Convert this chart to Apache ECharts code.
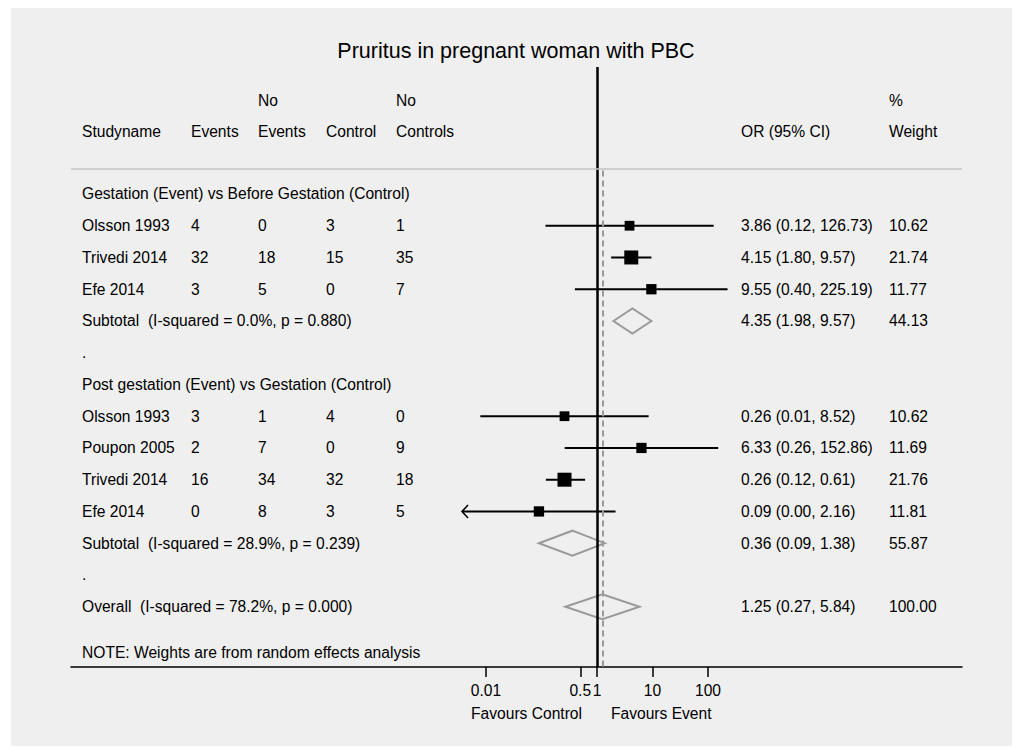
<!DOCTYPE html>
<html><head><meta charset="utf-8">
<script src="https://cdn.jsdelivr.net/npm/echarts@6/dist/echarts.min.js"></script>
<style>
html,body{margin:0;padding:0;background:#fff;}
#wrap{position:relative;width:1014px;height:749px;overflow:hidden;}
#bg{position:absolute;left:11px;top:8px;width:1001px;height:738px;background:#efefef;}
#chart{position:absolute;left:0;top:0;width:1014px;height:749px;}
</style></head><body>
<div id="wrap"><div id="bg"></div><div id="chart"></div></div>
<script>
// ---------------- data ----------------
const titleText = 'Pruritus in pregnant woman with PBC';
const headerTop = ['', '', 'No', '', 'No', '', '%'];
const headerBottom = ['Studyname', 'Events', 'Events', 'Control', 'Controls', 'OR (95% CI)', 'Weight'];

const group1Title = 'Gestation (Event) vs Before Gestation (Control)';
const group1Studies = ['Olsson 1993', 'Trivedi 2014', 'Efe 2014'];
const group1Events = [4, 32, 3];
const group1NoEvents = [0, 18, 5];
const group1Control = [3, 15, 0];
const group1NoControls = [1, 35, 7];
const group1OR = [3.86, 4.15, 9.55];
const group1Low = [0.118, 1.80, 0.40];
const group1High = [126.73, 9.57, 225.19];
const group1Weight = [10.62, 21.74, 11.77];
const group1SubLabel = 'Subtotal  (I-squared = 0.0%, p = 0.880)';
const group1Sub = [4.35, 1.98, 9.57, 44.13]; // OR, low, high, weight

const group2Title = 'Post gestation (Event) vs Gestation (Control)';
const group2Studies = ['Olsson 1993', 'Poupon 2005', 'Trivedi 2014', 'Efe 2014'];
const group2Events = [3, 2, 16, 0];
const group2NoEvents = [1, 7, 34, 8];
const group2Control = [4, 0, 32, 3];
const group2NoControls = [0, 9, 18, 5];
const group2OR = [0.26, 6.33, 0.26, 0.09];
const group2Low = [0.0079, 0.262, 0.12, 0.0037];
const group2High = [8.52, 152.86, 0.61, 2.16];
const group2Weight = [10.62, 11.69, 21.76, 11.81];
const group2SubLabel = 'Subtotal  (I-squared = 28.9%, p = 0.239)';
const group2Sub = [0.36, 0.09, 1.38, 55.87];

const overallLabel = 'Overall  (I-squared = 78.2%, p = 0.000)';
const overall = [1.25, 0.27, 5.84, 100.00];
const noteText = 'NOTE: Weights are from random effects analysis';

const tickValues = [0.01, 0.5, 1, 10, 100];
const favoursLeft = 'Favours Control';
const favoursRight = 'Favours Event';
const arrowFloor = 0.005; // CIs reaching below this get an arrow

// ---------------- layout / style ----------------
const FONT = '"Liberation Sans", Arial, Helvetica, sans-serif';
const FS = 15.6;
const colX = [82, 191, 258, 326, 396, 741, 889];
const sepRow = -0.79;
const yMin = -4, yMax = 14.9;
const f2 = v => v.toFixed(2);
const ciText = (o, l, h) => f2(o) + ' (' + f2(l) + ', ' + f2(h) + ')';

// build rows
const tableRows = [];
const studyPts = [];
const diamondPts = [];
tableRows.push({row: -2.96, cells: headerTop});
tableRows.push({row: -1.96, cells: headerBottom});
let r = 0;
function addGroup(title, names, ev, nev, ct, nct, or, lo, hi, w, subLabel, sub) {
  tableRows.push({row: r, cells: [title]}); r++;
  for (let i = 0; i < names.length; i++) {
    tableRows.push({row: r, cells: [names[i], String(ev[i]), String(nev[i]), String(ct[i]), String(nct[i]), ciText(or[i], lo[i], hi[i]), f2(w[i])]});
    studyPts.push([Math.log10(or[i]), r, Math.log10(lo[i]), Math.log10(hi[i]), w[i], lo[i] < arrowFloor ? 1 : 0]);
    r++;
  }
  tableRows.push({row: r, cells: [subLabel, '', '', '', '', ciText(sub[0], sub[1], sub[2]), f2(sub[3])]});
  diamondPts.push([Math.log10(sub[0]), r, Math.log10(sub[1]), Math.log10(sub[2])]);
  r++;
  tableRows.push({row: r, cells: ['.']}); r++;
}
addGroup(group1Title, group1Studies, group1Events, group1NoEvents, group1Control, group1NoControls,
  group1OR, group1Low, group1High, group1Weight, group1SubLabel, group1Sub);
addGroup(group2Title, group2Studies, group2Events, group2NoEvents, group2Control, group2NoControls,
  group2OR, group2Low, group2High, group2Weight, group2SubLabel, group2Sub);
tableRows.push({row: r, cells: [overallLabel, '', '', '', '', ciText(overall[0], overall[1], overall[2]), f2(overall[3])]});
diamondPts.push([Math.log10(overall[0]), r, Math.log10(overall[1]), Math.log10(overall[2])]);
r++;
tableRows.push({row: r + 0.45, cells: [noteText]});

const chart = echarts.init(document.getElementById('chart'), null, {renderer: 'svg'});
const logTicks = tickValues.map(v => Math.log10(v));

const option = {
  backgroundColor: 'transparent',
  animation: false,
  textStyle: {fontFamily: FONT},
  grid: {left: 71, right: 52, top: 67, bottom: 82, containLabel: false},
  xAxis: {
    type: 'value', min: -9.477, max: 6.577,
    splitLine: {show: false},
    axisLine: {show: true, onZero: false, lineStyle: {color: '#000', width: 1.6}},
    axisTick: {show: true, customValues: logTicks, length: 10, lineStyle: {color: '#000', width: 1.5}},
    axisLabel: {show: true, customValues: logTicks, color: '#000', fontSize: FS, fontFamily: FONT, margin: 15,
      formatter: v => String(+Math.pow(10, v).toPrecision(2))}
  },
  yAxis: {type: 'value', inverse: true, min: yMin, max: yMax, show: false},
  graphic: [
    {type: 'text', x: 516, y: 51, style: {text: titleText, font: '21.5px ' + FONT, fill: '#000', align: 'center', verticalAlign: 'middle'}},
    {type: 'text', x: 582, y: 713, style: {text: favoursLeft, font: FS + 'px ' + FONT, fill: '#000', align: 'right', verticalAlign: 'middle'}},
    {type: 'text', x: 611, y: 713, style: {text: favoursRight, font: FS + 'px ' + FONT, fill: '#000', align: 'left', verticalAlign: 'middle'}}
  ],
  series: [
    {
      type: 'custom', name: 'table', silent: true,
      data: tableRows.map(t => [0, t.row]),
      renderItem: (params, api) => {
        const t = tableRows[params.dataIndex];
        const y = api.coord([0, api.value(1)])[1];
        const children = [];
        t.cells.forEach((c, i) => {
          if (!c) return;
          children.push({type: 'text', style: {text: c, x: colX[i], y: y, font: FS + 'px ' + FONT, fill: '#000', align: 'left', verticalAlign: 'middle'}});
        });
        return {type: 'group', children};
      }
    },
    {
      type: 'custom', name: 'studies', silent: true,
      data: studyPts,
      renderItem: (params, api) => {
        const y = api.value(1);
        const c = api.coord([api.value(0), y]);
        const a = api.coord([api.value(2), y]);
        const b = api.coord([api.value(3), y]);
        const s = 3.0 * Math.sqrt(api.value(4));
        const children = [
          {type: 'line', shape: {x1: a[0], y1: a[1], x2: b[0], y2: b[1]}, style: {stroke: '#000', lineWidth: 2}},
          {type: 'rect', shape: {x: c[0] - s / 2, y: c[1] - s / 2, width: s, height: s}, style: {fill: '#000'}}
        ];
        if (api.value(5)) {
          children.push({type: 'polyline', shape: {points: [[a[0] + 6, a[1] - 6.5], [a[0], a[1]], [a[0] + 6, a[1] + 6.5]]}, style: {stroke: '#000', lineWidth: 1.6, fill: null}});
        }
        return {type: 'group', children};
      },
      markLine: {
        silent: true, symbol: 'none', label: {show: false}, animation: false,
        data: [
          {xAxis: 0, lineStyle: {color: '#000', width: 2.5, type: 'solid'}},
          {yAxis: sepRow, lineStyle: {color: '#c4c4c4', width: 1.6, type: 'solid'}},
          [{coord: [Math.log10(overall[0]), sepRow + 0.05], lineStyle: {color: '#9a9a9a', width: 2, type: [6, 4]}},
           {coord: [Math.log10(overall[0]), yMax]}]
        ]
      }
    },
    {
      type: 'custom', name: 'diamonds', silent: true,
      data: diamondPts,
      renderItem: (params, api) => {
        const y = api.value(1);
        const c = api.coord([api.value(0), y]);
        const a = api.coord([api.value(2), y]);
        const b = api.coord([api.value(3), y]);
        const h = 12.5;
        return {type: 'polygon', shape: {points: [[a[0], a[1]], [c[0], c[1] - h], [b[0], b[1]], [c[0], c[1] + h]]},
          style: {stroke: '#9a9a9a', lineWidth: 2, fill: 'none'}};
      }
    }
  ]
};
chart.setOption(option);
</script>
</body></html>
